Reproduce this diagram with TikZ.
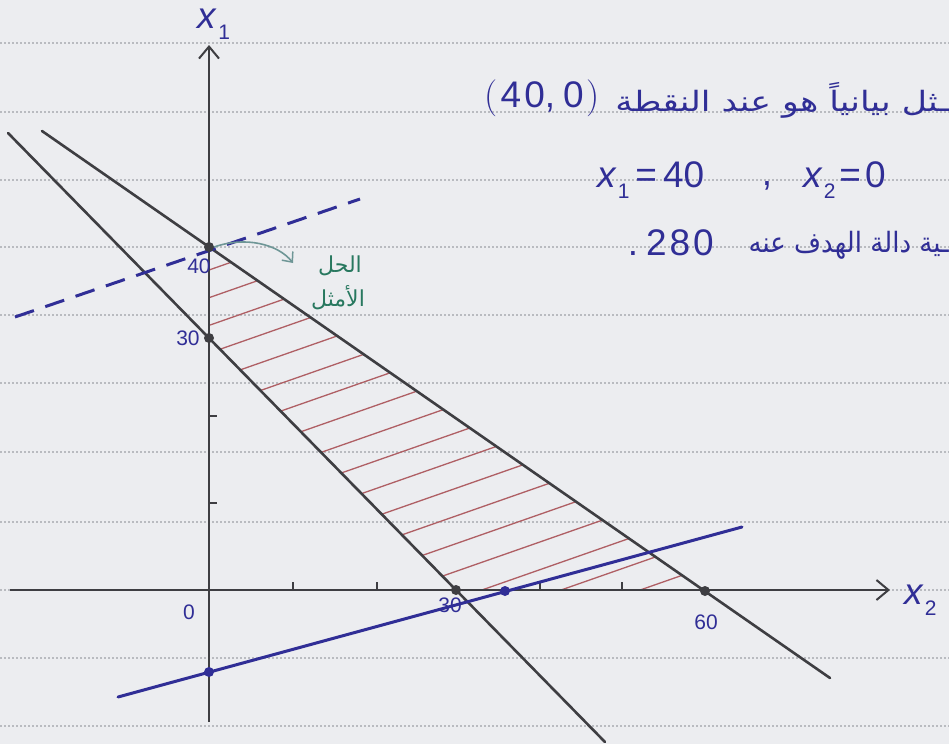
\documentclass[tikz,border=0pt]{standalone}
\usepackage{fontspec}
\newfontfamily\arabicfont[Script=Arabic]{DejaVu Sans}
\newfontfamily\inkfont[Script=Latin]{Liberation Sans}
\TeXXeTstate=1
\usetikzlibrary{arrows.meta}
\newcommand\xv[1]{\textit{x}\kern1pt\raisebox{-0.3em}{\fontsize{21}{23}\selectfont #1}}
\definecolor{paper}{RGB}{236,237,240}
\definecolor{rule}{RGB}{185,187,192}
\definecolor{pencil}{RGB}{62,62,66}
\definecolor{ink}{RGB}{48,46,150}
\definecolor{hatch}{RGB}{175,95,100}
\definecolor{greenink}{RGB}{40,120,95}
\definecolor{greenarrow}{RGB}{110,150,150}
\tikzset{
  pencilline/.style={draw=pencil, line width=2.6pt, line cap=round},
  axisline/.style={draw=pencil, line width=2.4pt, -{Straight Barb[length=12pt,width=20pt,line width=2pt]}},
  inkline/.style={draw=ink, line width=3pt, line cap=round},
  dashink/.style={draw=ink, line width=3pt, dash pattern=on 20pt off 12pt},
  hatchline/.style={draw=hatch, line width=1.3pt},
  tickmark/.style={draw=pencil, line width=1.6pt},
  pdot/.style={circle, fill=pencil, inner sep=0pt, minimum size=10pt},
  idot/.style={circle, fill=ink, inner sep=0pt, minimum size=10pt},
  inklabel/.style={text=ink, font=\inkfont\fontsize{21}{24}\selectfont, inner sep=1pt},
  bigink/.style={text=ink, font=\inkfont\fontsize{37}{40}\selectfont, inner sep=0pt},
  arabink/.style={text=ink, font=\arabicfont\fontsize{28}{32}\selectfont, inner sep=0pt},
  greenlabel/.style={text=greenink, font=\arabicfont\fontsize{22}{24}\selectfont, inner sep=0pt},
  paperrule/.style={draw=rule, line width=1.2pt, dash pattern=on 1.5pt off 2.5pt}
}
\begin{document}
\begin{tikzpicture}[x=1pt,y=-1pt]
\fill[paper] (0,0) rectangle (949,744);
\useasboundingbox (0,0) rectangle (949,744);
% paper rules
\foreach \r in {43,112,180,247,315,383,452,522,590,658,726}
  \draw[paperrule] (0,\r) -- (949,\r);
% coordinates
\coordinate (O) at (209,590);
\coordinate (ybot) at (209,722);
\coordinate (ytop) at (209,45);
\coordinate (xleft) at (10,590);
\coordinate (xright) at (890,590);
\coordinate (A1) at (42,131);
\coordinate (A2) at (830,678);
\coordinate (B1) at (8,133);
\coordinate (B2) at (605,742);
\coordinate (P40) at (209,247);
\coordinate (P30) at (209,338);
\coordinate (Q30) at (456,590);
\coordinate (Q60) at (705,591);
\coordinate (C1) at (118,697);
\coordinate (C2) at (742,527);
\coordinate (D1) at (15,317);
\coordinate (D2) at (360,199);
% hatching
\begin{scope}
  \clip (P40) -- (Q60) -- (Q30) -- (P30) -- cycle;
  \foreach \k in {0,...,17}
    \draw[hatchline] (209,{270+27.7*\k}) -- ++(520,-182);
\end{scope}
% axes
\draw[axisline] (ybot) -- (ytop);
\draw[axisline] (xleft) -- (xright);
% ticks
\foreach \t in {416,503}
  \draw[tickmark] (209,\t) -- ++(8,0);
\foreach \t in {293,377,540,622}
  \draw[tickmark] (\t,590) -- ++(0,-8);
% constraint lines
\draw[pencilline] (A1) -- (A2);
\draw[pencilline] (B1) -- (B2);
% objective lines
\draw[inkline] (C1) -- (C2);
\draw[dashink] (D1) -- (D2);
% dots
\node[pdot] (d40) at (P40) {};
\node[pdot] (d30) at (P30) {};
\node[pdot] (e30) at (Q30) {};
\node[pdot] (e60) at (Q60) {};
\node[idot] (f1) at (209,672) {};
\node[idot] (f2) at (505,591) {};
% conclusion text (Latin parts first)
\node[bigink, anchor=east] (t1b) at (600,98) {{\rmfamily(}\kern3pt4\kern3pt0,\kern8pt0\kern3pt{\rmfamily)}};
\node[bigink, anchor=west] (t2a) at (597,180) {\xv{1}\kern6pt=\kern6pt40};
\node[bigink] (t2b) at (767,186) {,};
\node[bigink, anchor=west] (t2c) at (803,180) {\xv{2}\kern4pt=\kern4pt0};
\node[bigink, anchor=east] (t3b) at (714,243) {.\kern8pt2\kern3pt8\kern3pt0};
% axis labels
\node[bigink] (lx1) at (214,24) {\xv{1}};
\node[bigink, anchor=west] (lx2) at (904,600) {\xv{2}};
\node[inklabel] (l40) at (199,266) {40};
\node[inklabel] (l30) at (188,338) {30};
\node[inklabel] (l0) at (189,612) {0};
\node[inklabel] (m30) at (450,605) {30};
\node[inklabel] (m60) at (706,622) {60};
% Arabic texts
\node[arabink, anchor=east] (t1) at (949,100) {\scalebox{1.24}[1]{\beginR ـثل بيانياً هو عند النقطة\endR}};
\node[arabink, anchor=east] (t3) at (949,245) {\scalebox{0.93}[1]{\beginR ـية دالة الهدف عنه\endR}};
% optimum annotation
\node[greenlabel] (g1) at (340,266) {\beginR الحل\endR};
\node[greenlabel] (g2) at (338,298) {\beginR الأمثل\endR};
\draw[greenarrow, line width=1.6pt, -{Straight Barb[length=8pt,width=14pt,line width=1.5pt]}]
  (d40.east) .. controls (245,236) and (278,244) .. (293,263);
\end{tikzpicture}
\end{document}
